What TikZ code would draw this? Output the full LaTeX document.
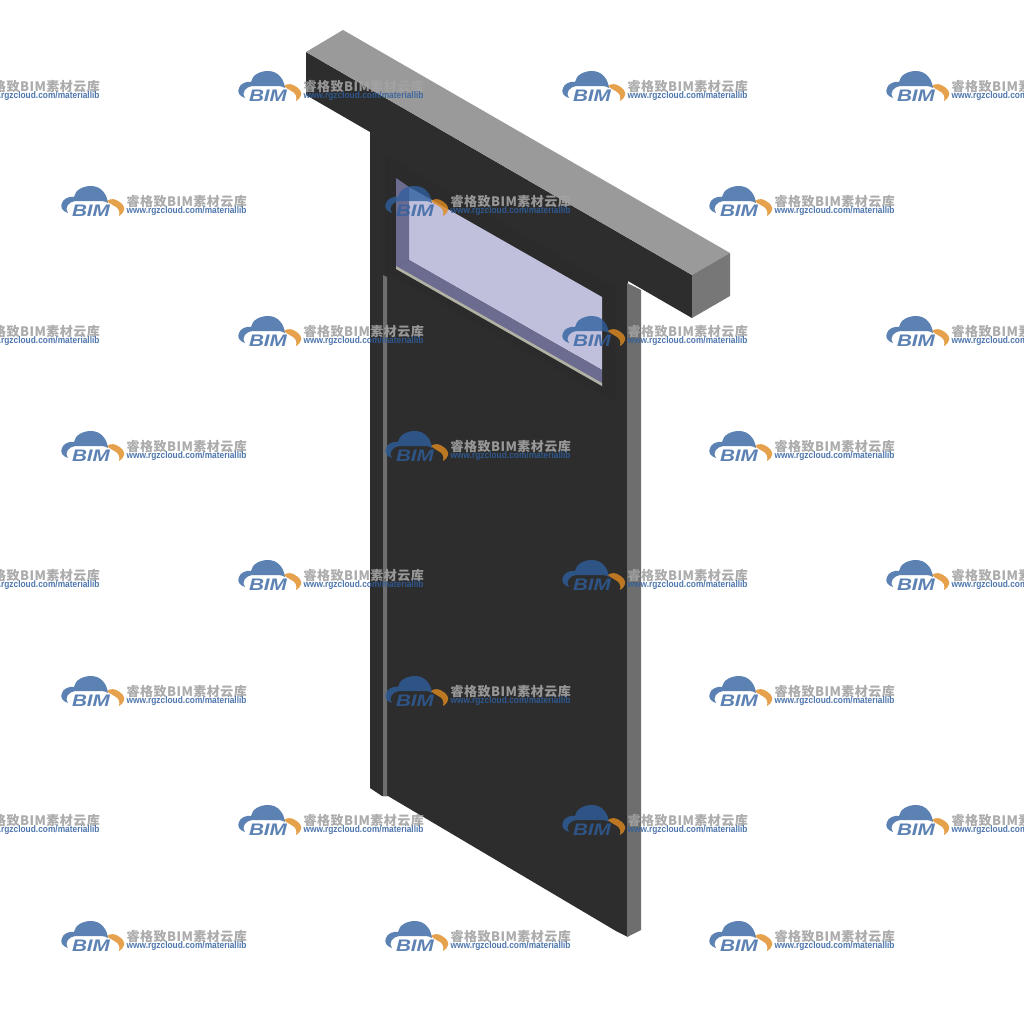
\documentclass[tikz,border=0pt]{standalone}
\usepackage{fontspec}
\setmainfont{Liberation Sans}
\newfontfamily\cjkfont[LetterSpace=3.5]{Noto Sans CJK SC}
\definecolor{walldark}{HTML}{2D2D2D}
\definecolor{wallframe}{HTML}{2B2B2B}
\definecolor{beamtop}{HTML}{9A9A9A}
\definecolor{beamend}{HTML}{777777}
\definecolor{sidestrip}{HTML}{6E6E6E}
\definecolor{glass}{HTML}{C0C0DC}
\definecolor{reveal}{HTML}{6C6C90}
\definecolor{sill}{HTML}{B2B2A4}
\definecolor{logoblue}{HTML}{2F5F9F}
\definecolor{logoorange}{HTML}{E08A20}
\tikzset{
  logocloud/.style = {fill = logoblue, fill opacity = 0.78},
  logoarc/.style = {fill = logoorange, fill opacity = 0.8},
  logotext/.style = {text = logoblue, text opacity = 0.78, inner sep = 0, font = \fontsize{4.75}{5}\selectfont\bfseries\itshape, xscale = 1.24, transform shape},
  marktext/.style = {text = black!36, text opacity = 0.9, inner sep = 0, anchor = west, font = \fontsize{3.7}{4}\cjkfont\bfseries},
  markurl/.style = {text = logoblue, text opacity = 0.85, inner sep = 0, anchor = west, font = \fontsize{2.7}{3}\selectfont\bfseries, xscale = 0.88, transform shape}
}
% one watermark: name, x, y
\newcommand{\bimmark}[3]{
  \begin{scope}[shift = {(#2, #3)}]
    \fill [logocloud] (7, 9) .. controls (1, 7) and (-1, 3) .. (1, -1) .. controls (2, -5) and (8, -8) .. (13, -7)
      .. controls (14, -14) and (22, -18) .. (30, -18) .. controls (40, -18) and (46, -10) .. (47, -1)
      .. controls (45, -2) and (43, -3) .. (41, -3) -- (14, -3) .. controls (8, -2) and (3, 3) .. (7, 9) -- cycle;
    \fill [logoarc] (46, -3) .. controls (50, -6) and (54, -5) .. (57, -3) .. controls (61, -1) and (64, 3) .. (63, 6)
      .. controls (63, 8) and (61, 10) .. (58, 12) .. controls (59, 8) and (58, 5) .. (55, 3) .. controls (53, 1) and (50, 1) .. (46, -3) -- cycle;
    \node [logotext] (#1logo) at (30, 7) {BIM};
    \node [marktext] (#1name) at (65, -2) {睿格致BIM素材云库};
    \node [markurl] (#1url) at (65, 7.5) {www.rgzcloud.com/materiallib};
  \end{scope}
}
\begin{document}
\begin{tikzpicture}[x = 0.01cm, y = -0.01cm]
        \useasboundingbox (0, 0) rectangle (1024, 1024);
        \clip (0, 0) rectangle (1024, 1024);
        \fill [white] (0, 0) rectangle (1024, 1024);

        % wall
        \fill [walldark] (370, 125) -- (628, 275) -- (628, 937) -- (616, 931) -- (388, 796) -- (382, 796) -- (370, 788) -- cycle;
        \fill [wallframe] (385, 155) -- (615, 288) -- (615, 402) -- (385, 272) -- cycle;
        \fill [sidestrip] (627, 283) -- (641, 290) -- (641, 930) -- (627, 937) -- cycle;
        \fill [sidestrip] (383, 275) -- (387, 277) -- (387, 796) -- (383, 796) -- cycle;

        % beam
        \fill [walldark] (306, 52) -- (692, 275) -- (692, 318) -- (306, 95) -- cycle;
        \fill [beamtop] (343, 30) -- (730, 253) -- (692, 275) -- (306, 52) -- cycle;
        \fill [beamend] (692, 275) -- (730, 253) -- (730, 296) -- (692, 318) -- cycle;

        % window
        \fill [glass] (409, 187) -- (602, 297) -- (602, 370) -- (409, 260) -- cycle;
        \fill [reveal] (396, 178) -- (409, 187) -- (409, 260) -- (396, 267) -- cycle;
        \fill [reveal] (396, 267) -- (409, 260) -- (602, 370) -- (602, 386) -- cycle;
        \fill [sill] (396, 266) -- (602, 383) -- (602, 386) -- (396, 269) -- cycle;

        % watermarks
        \foreach \row/\ypos in {a/89, c/334, e/578, g/823} {
          \foreach \col/\xpos in {1/-86, 2/238, 3/562, 4/886} {
            \bimmark{\row\col}{\xpos}{\ypos}
          }
        }
        \foreach \row/\ypos in {b/204, d/449, f/694, h/939} {
          \foreach \col/\xpos in {1/61, 2/385, 3/709} {
            \bimmark{\row\col}{\xpos}{\ypos}
          }
        }
\end{tikzpicture}
\end{document}
